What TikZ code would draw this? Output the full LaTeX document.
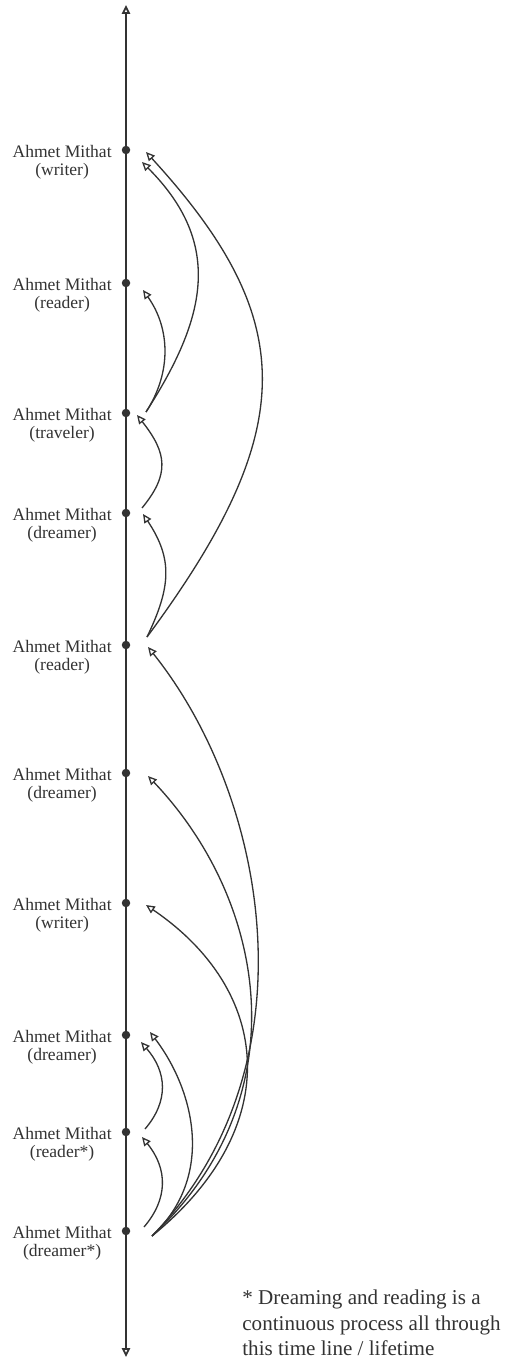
\documentclass[tikz,border=0pt]{standalone}
\usepackage{fontspec}
\setmainfont{Liberation Serif}
\usetikzlibrary{arrows.meta}
\definecolor{inkgray}{HTML}{333333}

\begin{document}
\begin{tikzpicture}[x=0.02cm, y=-0.02cm,
  moment/.style={circle, fill=inkgray, inner sep=0pt, minimum size=0.17cm},
  lbl/.style={font=\fontsize{10}{10}\selectfont, align=center, inner sep=0pt, text=inkgray, anchor=north east},
  timeline/.style={{Triangle[open, length=5pt, width=4.6pt]}-{Triangle[open, length=5pt, width=4.6pt]}, line width=1pt, draw=inkgray},
  link/.style={-{Triangle[open, length=5pt, width=4.6pt]}, line width=0.75pt, draw=inkgray},
  note/.style={font=\fontsize{12}{14.4}\selectfont, align=left, inner sep=0pt, text=inkgray, anchor=north west}
]
\useasboundingbox (0,0) rectangle (509,1361);

% Time line
\coordinate (past) at (126,1357);
\coordinate (future) at (126,5);
\draw[timeline] (past) -- (future);

% Moments (top to bottom)
\node[moment] (wri1) at (126,150) {};
\node[moment] (rea1) at (126,283) {};
\node[moment] (tra) at (126,413) {};
\node[moment] (dre1) at (126,513) {};
\node[moment] (rea2) at (126,645) {};
\node[moment] (dre2) at (126,773) {};
\node[moment] (wri2) at (126,903) {};
\node[moment] (dre3) at (126,1035) {};
\node[moment] (rea3) at (126,1132) {};
\node[moment] (dre4) at (126,1231) {};

% Labels
\node[lbl] (lwri1) at (112,145) {Ahmet Mithat\\(writer)};
\node[lbl] (lrea1) at (112,278) {Ahmet Mithat\\(reader)};
\node[lbl] (ltra) at (112,408) {Ahmet Mithat\\(traveler)};
\node[lbl] (ldre1) at (112,508) {Ahmet Mithat\\(dreamer)};
\node[lbl] (lrea2) at (112,640) {Ahmet Mithat\\(reader)};
\node[lbl] (ldre2) at (112,768) {Ahmet Mithat\\(dreamer)};
\node[lbl] (lwri2) at (112,898) {Ahmet Mithat\\(writer)};
\node[lbl] (ldre3) at (112,1030) {Ahmet Mithat\\(dreamer)};
\node[lbl] (lrea3) at (112,1127) {Ahmet Mithat\\(reader*)};
\node[lbl] (ldre4) at (112,1226) {Ahmet Mithat\\(dreamer*)};

% Arrows
\draw[link] ([shift={(20,-1)}]tra.center) .. controls +(59,-92) and +(83,83) .. ([shift={(16,12)}]wri1.center);
\draw[link] ([shift={(20,-1)}]tra.center) .. controls +(26,-40) and +(27,38) .. ([shift={(17,7)}]rea1.center);
\draw[link] ([shift={(16,-5)}]dre1.center) .. controls +(28,-34) and +(30,38) .. ([shift={(11,2)}]tra.center);
\draw[link] ([shift={(21,-8)}]rea2.center) .. controls +(24,-50) and +(30,45) .. ([shift={(17,1)}]dre1.center);
\draw[link] ([shift={(21,-8)}]rea2.center) .. controls +(153,-207) and +(154,168) .. ([shift={(20,2)}]wri1.center);
\draw[link] ([shift={(26,5)}]dre4.center) .. controls +(165,-170) and +(120,150) .. ([shift={(22,2)}]rea2.center);
\draw[link] ([shift={(26,5)}]dre4.center) .. controls +(150,-140) and +(118,124) .. ([shift={(22,3)}]dre2.center);
\draw[link] ([shift={(26,5)}]dre4.center) .. controls +(135,-110) and +(125,85) .. ([shift={(20,2)}]wri2.center);
\draw[link] ([shift={(26,5)}]dre4.center) .. controls +(64,-60) and +(44,58) .. ([shift={(24,-3)}]dre3.center);
\draw[link] ([shift={(18,-4)}]dre4.center) .. controls +(24,-28) and +(26,32) .. ([shift={(16,5)}]rea3.center);
\draw[link] ([shift={(19,-3)}]rea3.center) .. controls +(24,-28) and +(26,30) .. ([shift={(15,7)}]dre3.center);

% Note
\node[note] (footnote) at (242,1290) {* Dreaming and reading is a\\continuous process all through\\this time line / lifetime};

\end{tikzpicture}
\end{document}
